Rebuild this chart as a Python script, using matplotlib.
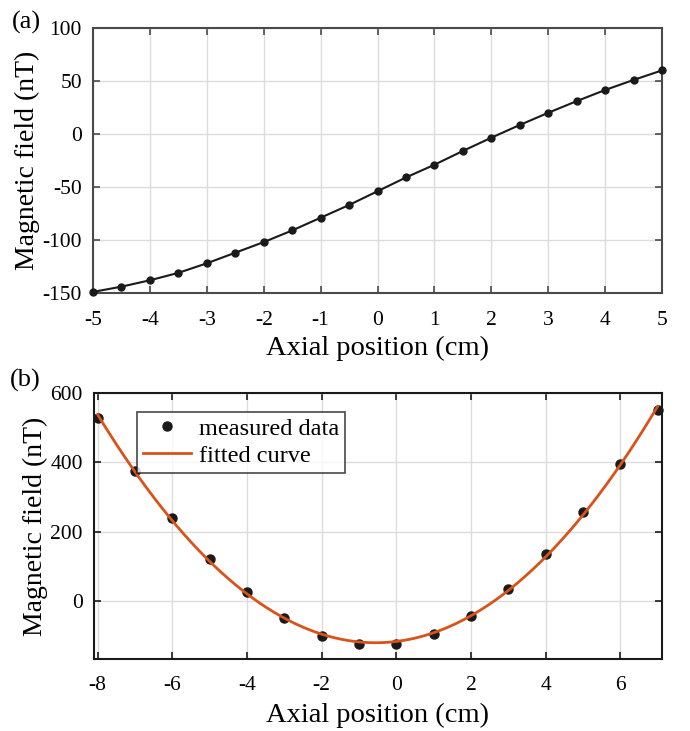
import numpy as np
import matplotlib.pyplot as plt

plt.rcParams['font.family'] = ['Liberation Serif', 'DejaVu Serif']
plt.rcParams['axes.unicode_minus'] = False

# --- データ ---
pos_a = [-5, -4.5, -4, -3.5, -3, -2.5, -2, -1.5, -1, -0.5, 0,
         0.5, 1, 1.5, 2, 2.5, 3, 3.5, 4, 4.5, 5]
field_a = [-149, -144, -138, -131, -122, -112, -102, -91, -79, -67, -54,
           -41, -29, -16, -3.5, 8.5, 20, 31, 41.5, 51, 60]

pos_b = [-8, -7, -6, -5, -4, -3, -2, -1, 0, 1, 2, 3, 4, 5, 6, 7]
field_b = [528, 376, 239, 122, 26, -49, -99, -124, -122, -95, -42,
           35, 135, 256, 395, 552]

# 3次多項式フィット
coef = np.polyfit(pos_b, field_b, 3)
xfit = np.linspace(-8, 7, 300)
yfit = np.polyval(coef, xfit)

fig = plt.figure(figsize=(6.9, 7.31), dpi=100)
ax1 = fig.add_axes([93/690, 1 - 293/731, 569/690, 265/731])
ax2 = fig.add_axes([94/690, 1 - 659/731, 568/690, 266/731])


def style(ax, edge, xpad):
    ax.grid(True, color='#dcdcdc', linewidth=1.0)
    ax.set_axisbelow(True)
    ax.tick_params(direction='in', top=True, right=True, labelsize=15.5,
                   length=5, width=1.2, color=edge, pad=8)
    ax.tick_params(axis='x', pad=xpad)
    for s in ax.spines.values():
        s.set_color(edge)
        s.set_linewidth(1.5)


# --- (a) ---
ax1.plot(pos_a, field_a, color='#1a1a1a', linewidth=1.5, marker='o',
         markersize=5, clip_on=False, zorder=3)
ax1.set_xlim(-5, 5)
ax1.set_ylim(-150, 100)
ax1.set_xticks(range(-5, 6))
ax1.set_yticks(range(-150, 101, 50))
style(ax1, '#4a4a4a', 13)
ax1.set_xlabel('Axial position (cm)', fontsize=20.5, labelpad=4)
ax1.set_ylabel('Magnetic field (nT)', fontsize=20, labelpad=2)

# --- (b) ---
ax2.plot(pos_b, field_b, 'o', color='#1a1a1a', markersize=6.5,
         label='measured data', clip_on=False, zorder=3)
ax2.plot(xfit, yfit, color='#D95319', linewidth=2, label='fitted curve', zorder=4)
ax2.set_xlim(-8.1, 7.12)
ax2.set_ylim(-166, 600)
ax2.set_xticks(range(-8, 7, 2))
ax2.set_yticks(range(0, 601, 200))
style(ax2, '#1a1a1a', 12)
ax2.set_xlabel('Axial position (cm)', fontsize=20.5, labelpad=6)
ax2.set_ylabel('Magnetic field (nT)', fontsize=20, labelpad=2)
leg = ax2.legend(loc='upper left', bbox_to_anchor=(0.075, 0.93), fontsize=17.5,
                 frameon=True, fancybox=False, edgecolor='#1a1a1a',
                 borderpad=0.25, handlelength=2.0, handletextpad=0.3,
                 labelspacing=0.2, borderaxespad=0)
leg.get_frame().set_linewidth(1.2)

fig.text(12/690, 1 - 22/731, '(a)', fontsize=19, va='center', ha='left')
fig.text(10/690, 1 - 380/731, '(b)', fontsize=19, va='center', ha='left')

plt.savefig('out.png', dpi=100)
